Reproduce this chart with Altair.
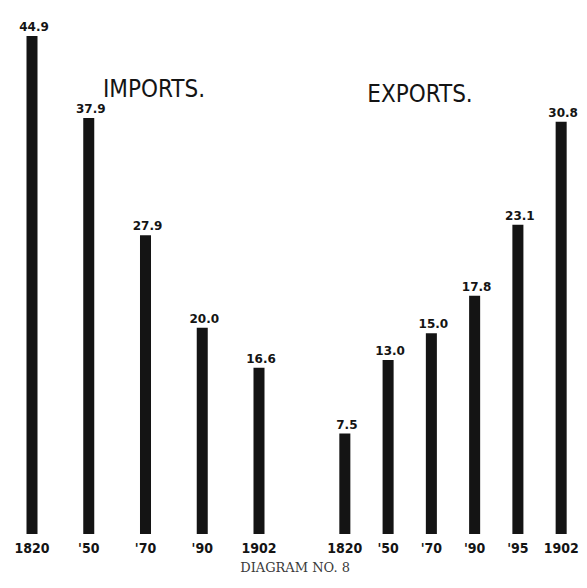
import altair as alt
import pandas as pd

# ---- data ----
imp_years = ["1820", "'50", "'70", "'90", "1902"]
imp_vals = [44.9, 37.9, 27.9, 20.0, 16.6]

exp_years = ["1820", "'50", "'70", "'90", "'95", "1902"]
exp_vals = [7.5, 13.0, 15.0, 17.8, 23.1, 30.8]

panel_titles = ["IMPORTS.", "EXPORTS."]

imp_df = pd.DataFrame({"year": imp_years, "value": imp_vals})
exp_df = pd.DataFrame({"year": exp_years, "value": exp_vals})

INK = "#141414"
PLOT_H = 526


def panel(df, years, ymin, ymax, width, pad_in, pad_out, title, tx, ty):
    x = alt.X(
        "year:N",
        sort=years,
        title=None,
        scale=alt.Scale(paddingInner=pad_in, paddingOuter=pad_out),
        axis=alt.Axis(
            labelAngle=0,
            ticks=False,
            domain=False,
            grid=False,
            labelFont="DejaVu Sans Condensed",
            labelFontSize=14,
            labelFontWeight="bold",
            labelColor=INK,
            labelPadding=7,
        ),
    )
    y = alt.Y(
        "value:Q",
        scale=alt.Scale(domain=[ymin, ymax], zero=False, nice=False),
        axis=None,
    )
    base = alt.Chart(df).encode(x=x, y=y)
    bars = base.mark_bar(color=INK).encode(y2=alt.datum(ymin))
    labels = base.mark_text(
        baseline="alphabetic",
        dy=-5,
        dx=2,
        font="DejaVu Sans",
        fontWeight="bold",
        fontSize=12,
        color=INK,
    ).encode(text=alt.Text("value:Q", format=".1f"))
    head = (
        alt.Chart(pd.DataFrame({"t": [title]}))
        .mark_text(
            baseline="alphabetic",
            align="center",
            font="DejaVu Sans Condensed",
            fontSize=24,
            color=INK,
        )
        .encode(text="t:N", x=alt.value(tx), y=alt.value(ty))
    )
    return alt.layer(bars, labels, head).properties(width=width, height=PLOT_H)


left = panel(imp_df, imp_years, 2.4, 47.3, 275, 0.806, 0.326, panel_titles[0], 146, 89)
right = panel(exp_df, exp_years, 0.0, 39.3, 236, 0.745, 0.10, panel_titles[1], 85, 94)

chart = (
    alt.hconcat(left, right, spacing=43)
    .properties(
        padding={"left": 0, "top": 0, "right": 0, "bottom": 0},
        background="white",
        title=alt.TitleParams(
            "DIAGRAM NO. 8",
            orient="bottom",
            anchor="middle",
            dx=2,
            offset=7,
            font="DejaVu Serif",
            fontSize=13,
            fontWeight="normal",
            color="#3a3a3a",
        ),
    )
    .configure_view(stroke="transparent", strokeWidth=0)
)

chart.save("out.html", embed_options={"renderer": "svg", "actions": False})
